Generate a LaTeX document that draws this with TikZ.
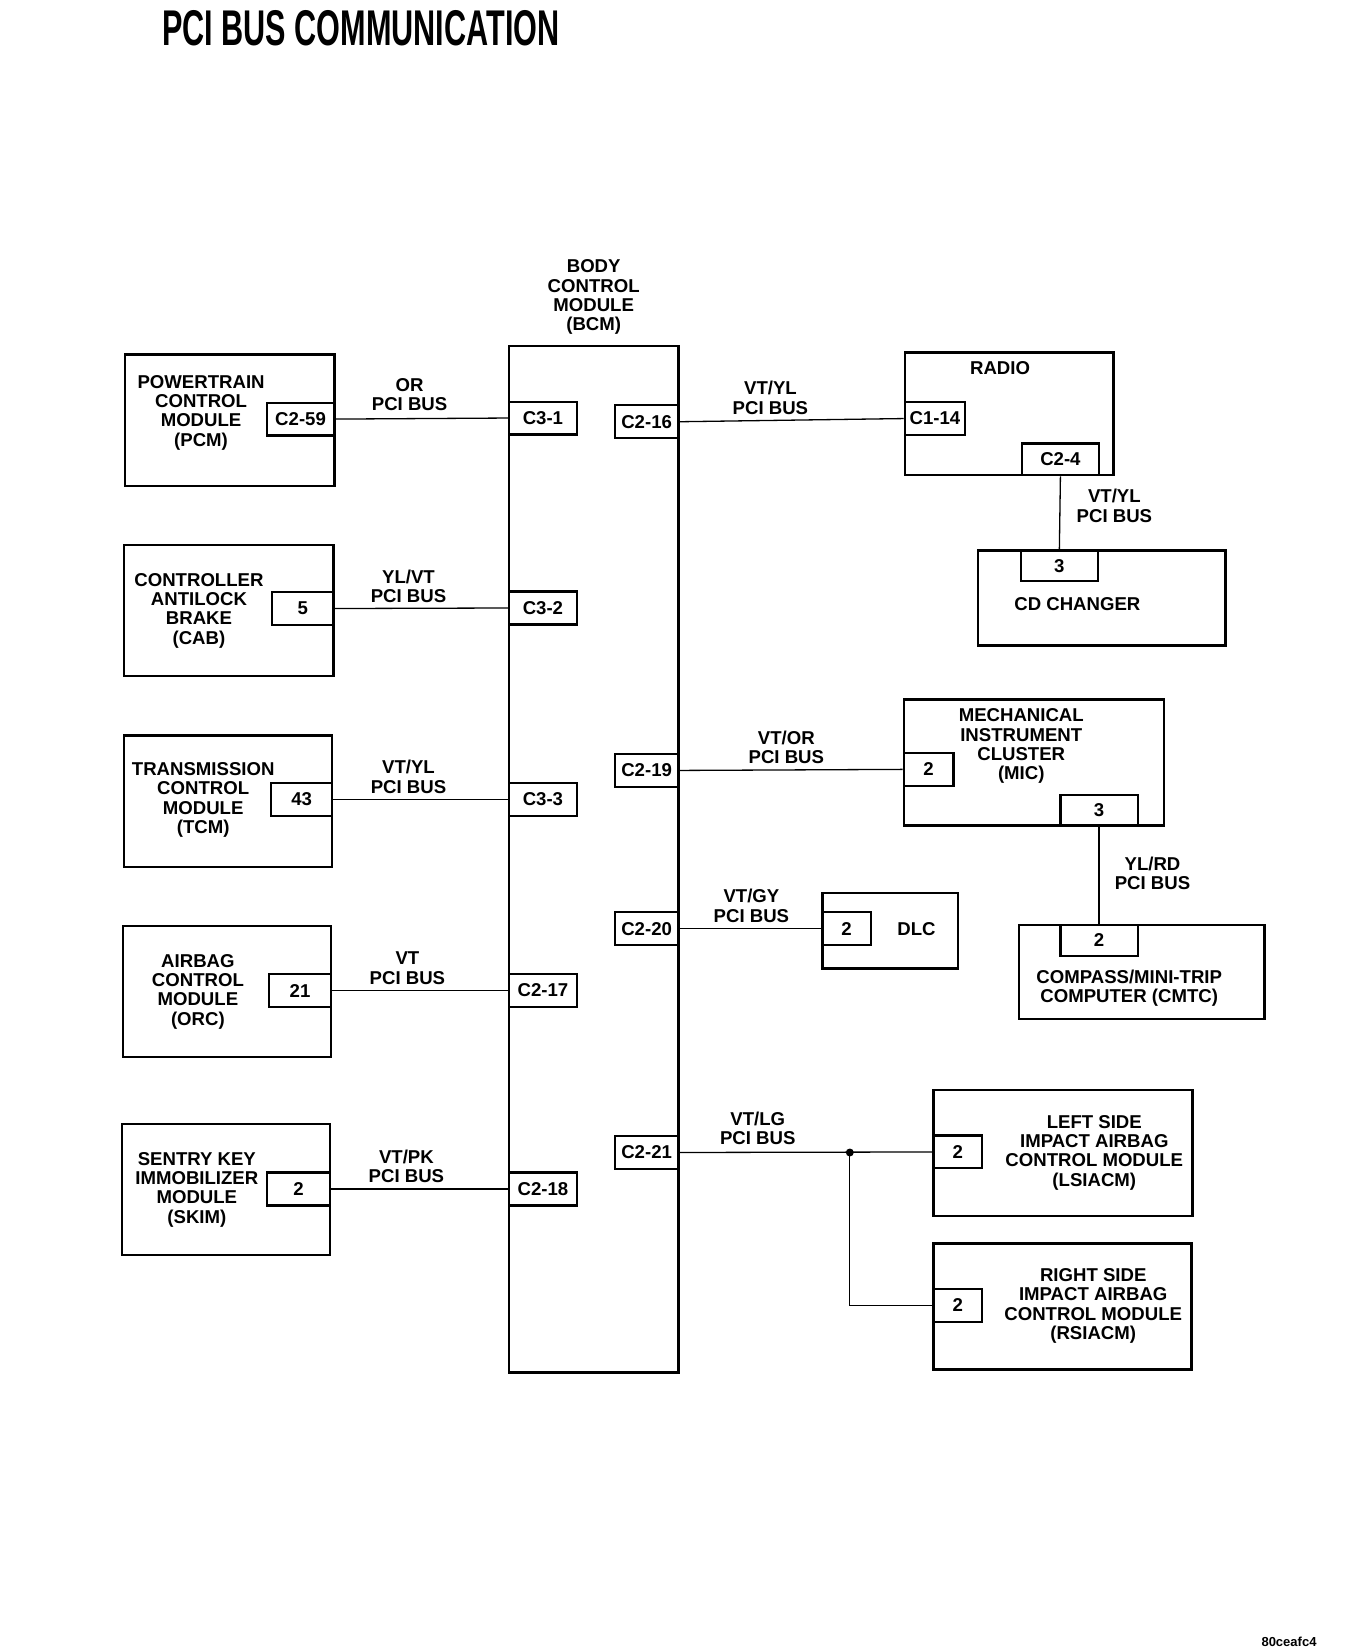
\documentclass[tikz,border=0pt]{standalone}
\usepackage{fontspec}
\setmainfont{Liberation Sans}
\usetikzlibrary{positioning}
\tikzset{
    modbox/.style = {rectangle, draw=black, line width=1.3pt, inner sep=0pt},
    pinbox/.style = {rectangle, draw=black, line width=1.2pt, inner sep=0pt, minimum height=0.62cm, font=\fontsize{10}{10.4}\selectfont\bfseries},
    modtext/.style = {align=center, inner sep=0pt, font=\fontsize{10}{10.4}\selectfont\bfseries},
    buslabel/.style = {align=center, inner sep=0pt, font=\fontsize{10}{10.4}\selectfont\bfseries},
    bus/.style = {line width=0.7pt},
    splitdot/.style = {circle, fill=black, inner sep=0pt, minimum size=0.15cm}
}

\begin{document}
\begin{tikzpicture}[x=0.02cm, y=-0.02cm]
  \useasboundingbox (0,0) rectangle (1270,1561);
  % title
  \node[inner sep=0pt, font=\fontsize{27}{27}\selectfont\bfseries] (title) at (341,27)
    {\scalebox{0.61}[1]{PCI BUS COMMUNICATION}};

  % body control module
  \node[modbox, minimum width=3.2cm, minimum height=19.4cm] (bcm) at (561,812) {};
  \node[modtext] (bcmtxt) at (561,281) {BODY\\CONTROL\\MODULE\\(BCM)};
  \node[pinbox, minimum width=1.28cm] (c31) at (513,395) {C3-1};
  \node[pinbox, minimum width=1.28cm] (c32) at (513,574.5) {C3-2};
  \node[pinbox, minimum width=1.28cm] (c33) at (513,755.5) {C3-3};
  \node[pinbox, minimum width=1.28cm] (c217) at (513,936) {C2-17};
  \node[pinbox, minimum width=1.28cm] (c218) at (513,1123.5) {C2-18};
  \node[pinbox, minimum width=1.2cm] (c216) at (611,398.5) {C2-16};
  \node[pinbox, minimum width=1.2cm] (c219) at (611,728) {C2-19};
  \node[pinbox, minimum width=1.2cm] (c220) at (611,877.5) {C2-20};
  \node[pinbox, minimum width=1.2cm] (c221) at (611,1089) {C2-21};

  % left side modules
  \node[modbox, minimum width=3.96cm, minimum height=2.48cm] (pcm) at (217,397) {};
  \node[modtext] (pcmtxt) at (190,390) {POWERTRAIN\\CONTROL\\MODULE\\(PCM)};
  \node[pinbox, minimum width=1.28cm] (pcmpin) at (284,396) {C2-59};

  \node[modbox, minimum width=3.96cm, minimum height=2.48cm] (cab) at (216,577) {};
  \node[modtext] (cabtxt) at (188,577) {CONTROLLER\\ANTILOCK\\BRAKE\\(CAB)};
  \node[pinbox, minimum width=1.16cm] (cabpin) at (286,575) {5};

  \node[modbox, minimum width=3.94cm, minimum height=2.48cm] (tcm) at (215.5,757) {};
  \node[modtext] (tcmtxt) at (192,756) {TRANSMISSION\\CONTROL\\MODULE\\(TCM)};
  \node[pinbox, minimum width=1.16cm] (tcmpin) at (285,755.5) {43};

  \node[modbox, minimum width=3.94cm, minimum height=2.48cm] (orc) at (214.5,937) {};
  \node[modtext] (orctxt) at (187,937) {AIRBAG\\CONTROL\\MODULE\\(ORC)};
  \node[pinbox, minimum width=1.18cm] (orcpin) at (283.5,936) {21};

  \node[modbox, minimum width=3.94cm, minimum height=2.48cm] (skim) at (213.5,1124) {};
  \node[modtext] (skimtxt) at (186,1124) {SENTRY KEY\\IMMOBILIZER\\MODULE\\(SKIM)};
  \node[pinbox, minimum width=1.2cm] (skimpin) at (282,1123.5) {2};

  \draw[bus] (pcmpin.east) -- (c31.west);
  \draw[bus] (cabpin.east) -- (c32.west);
  \draw[bus] (tcmpin.east) -- (c33.west);
  \draw[bus] (orcpin.east) -- (c217.west);
  \draw[bus] (skimpin.east) -- (c218.west);
  \node[buslabel] (orlbl) at (387,373) {OR\\PCI BUS};
  \node[buslabel] (ylvtlbl) at (386,554) {YL/VT\\PCI BUS};
  \node[buslabel] (vtyllbl) at (386,734) {VT/YL\\PCI BUS};
  \node[buslabel] (vtlbl) at (385,915) {VT\\PCI BUS};
  \node[buslabel] (vtpklbl) at (384,1102) {VT/PK\\PCI BUS};

  % right side modules
  \node[modbox, minimum width=3.94cm, minimum height=2.32cm] (radio) at (953.5,391) {};
  \node[modtext] (radiotxt) at (945,348) {RADIO};
  \node[pinbox, minimum width=1.14cm] (c114) at (883.5,395.5) {C1-14};
  \node[pinbox, minimum width=1.46cm, minimum height=0.6cm] (c24) at (1002,434) {C2-4};

  \node[modbox, minimum width=4.68cm, minimum height=1.8cm] (cdch) at (1041,565) {};
  \node[pinbox, minimum width=1.46cm, minimum height=0.58cm] (cdpin) at (1001,534.5) {3};
  \node[modtext] (cdtxt) at (1018,571) {CD CHANGER};

  \node[modbox, minimum width=4.92cm, minimum height=2.38cm] (mic) at (977,720.5) {};
  \node[modtext] (mictxt) at (965,705) {MECHANICAL\\INSTRUMENT\\CLUSTER\\(MIC)};
  \node[pinbox, minimum width=0.94cm] (micpin) at (877.5,727) {2};
  \node[pinbox, minimum width=1.46cm, minimum height=0.58cm] (mic3) at (1038.5,765.5) {3};

  \node[modbox, minimum width=4.64cm, minimum height=1.78cm] (cmtc) at (1079,918.5) {};
  \node[pinbox, minimum width=1.46cm, minimum height=0.58cm] (cmtcpin) at (1038.5,888.5) {2};
  \node[modtext] (cmtctxt) at (1067,934) {COMPASS/MINI-TRIP\\COMPUTER (CMTC)};

  \node[modbox, minimum width=2.56cm, minimum height=1.42cm] (dlc) at (841,879.5) {};
  \node[pinbox, minimum width=0.92cm] (dlcpin) at (800,877.5) {2};
  \node[modtext] (dlctxt) at (866,878) {DLC};

  \node[modbox, minimum width=4.9cm, minimum height=2.38cm] (lsiacm) at (1004.5,1089.5) {};
  \node[pinbox, minimum width=0.92cm] (lspin) at (905,1088.5) {2};
  \node[modtext] (lstxt) at (1034,1089) {LEFT SIDE\\IMPACT AIRBAG\\CONTROL MODULE\\(LSIACM)};

  \node[modbox, minimum width=4.88cm, minimum height=2.38cm] (rsiacm) at (1004,1234.5) {};
  \node[pinbox, minimum width=0.92cm] (rspin) at (905,1233.5) {2};
  \node[modtext] (rstxt) at (1033,1234) {RIGHT SIDE\\IMPACT AIRBAG\\CONTROL MODULE\\(RSIACM)};

  \draw[bus] (c216.east) -- (c114.west);
  \draw[bus] (c24.south) -- (cdpin.north);
  \draw[bus] (c219.east) -- (micpin.west);
  \draw[bus] (mic3.south) -- (cmtcpin.north);
  \draw[bus] (c220.east) -- (dlcpin.west);
  \draw[bus] (c221.east) -- (lspin.west);
  \coordinate (split) at (803,1089);
  \draw[bus] (split) |- (rspin.west);
  \node[splitdot] (splitpt) at (split) {};

  \node[buslabel] (radlbl) at (728,376) {VT/YL\\PCI BUS};
  \node[buslabel] (cdlbl) at (1053,478) {VT/YL\\PCI BUS};
  \node[buslabel] (miclbl) at (743,706) {VT/OR\\PCI BUS};
  \node[buslabel] (cmtclbl) at (1089,825) {YL/RD\\PCI BUS};
  \node[buslabel] (dlclbl) at (710,856) {VT/GY\\PCI BUS};
  \node[buslabel] (sidelbl) at (716,1066) {VT/LG\\PCI BUS};

  % figure code
  \node[inner sep=0pt, font=\fontsize{7}{7}\selectfont\bfseries] (figid) at (1218,1551) {80ceafc4};
\end{tikzpicture}
\end{document}
